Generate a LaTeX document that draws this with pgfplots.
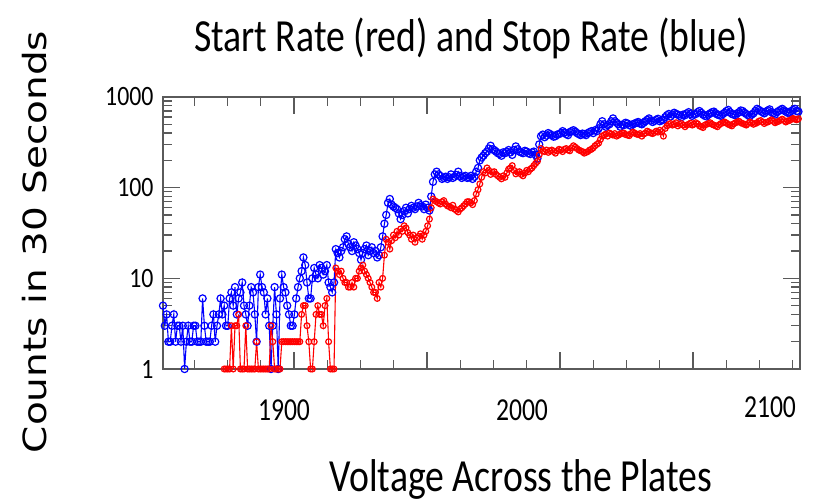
\documentclass[border=0pt]{standalone}
\usepackage{pgfplots}
\pgfplotsset{compat=1.18}
\usepackage{pgfplotstable}
\usepackage{fontspec}
\setmainfont{Carlito}
\newfontfamily\dejavu{DejaVu Sans}
\definecolor{axgray}{RGB}{90,90,90}

\pgfplotstableread{
V blue red
1846 5 nan
1846.75 3 nan
1847.5 4 nan
1848.25 2 nan
1849 2 nan
1849.75 3 nan
1850.5 4 nan
1851.25 2 nan
1852 3 nan
1852.75 3 nan
1853.5 2 nan
1854.25 3 nan
1855 1 nan
1855.75 2 nan
1856.5 3 nan
1857.25 2 nan
1858 2 nan
1858.75 3 nan
1859.5 3 nan
1860.25 2 nan
1861 2 nan
1861.75 2 nan
1862.5 6 nan
1863.25 3 nan
1864 2 nan
1864.75 2 nan
1865.5 2 nan
1866.25 3 nan
1867 4 nan
1867.75 2 nan
1868.5 3 nan
1869.25 4 nan
1870 6 nan
1870.75 4 nan
1871.5 5 1
1872.25 3 1
1873 3 1
1873.75 6 1
1874.5 7 3
1875.25 5 1
1876 8 3
1876.75 4 3
1877.5 6 4
1878.25 7 1
1879 9 1
1879.75 5 1
1880.5 4 3
1881.25 3 1
1882 5 1
1882.75 8 1
1883.5 7 1
1884.25 4 1
1885 2 2
1885.75 8 1
1886.5 11 1
1887.25 8 1
1888 7 1
1888.75 4 1
1889.5 6 1
1890.25 3 1
1891 1 3
1891.75 3 2
1892.5 8 1
1893.25 4 1
1894 1 1
1894.75 6 1
1895.5 11 2
1896.25 8 2
1897 7 2
1897.75 5 2
1898.5 4 2
1899.25 3 2
1900 3 2
1900.75 4 2
1901.5 6 2
1902.25 8 2
1903 10 2
1903.75 12 4
1904.5 17 5
1905.25 14 5
1906 9 3
1906.75 6 2
1907.5 6 1
1908.25 10 1
1909 13 2
1909.75 11 4
1910.5 10 5
1911.25 14 4
1912 13 4
1912.75 11 3
1913.5 12 5
1914.25 14 6
1915 9 2
1915.75 8 1
1916.5 7 1
1917.25 9 1
1918 21 13
1918.75 19 12
1919.5 17 11
1920.25 20 12
1921 22 10
1921.75 27 9
1922.5 29 9
1923.25 24 8
1924 22 8
1924.75 20 9
1925.5 25 8
1926.25 23 10
1927 21 10
1927.75 19 12
1928.5 16 13
1929.25 19 14
1930 21 12
1930.75 23 11
1931.5 18 10
1932.25 20 9
1933 22 8
1933.75 19 7
1934.5 20 7
1935.25 17 6
1936 18 9
1936.75 22 8
1937.5 29 10
1938.25 40 18
1939 50 27
1939.75 68 25
1940.5 75 21
1941.25 65 26
1942 62 30
1942.75 60 28
1943.5 58 33
1944.25 52 30
1945 45 35
1945.75 50 33
1946.5 55 38
1947.25 60 36
1948 52 32
1948.75 58 30
1949.5 63 27
1950.25 60 30
1951 58 25
1951.75 62 28
1952.5 68 29
1953.25 64 31
1954 62 27
1954.75 58 30
1955.5 65 33
1956.25 60 38
1957 56 45
1957.75 80 60
1958.5 116 75
1959.25 140 72
1960 150 70
1960.75 140 68
1961.5 135 66
1962.25 125 70
1963 128 72
1963.75 132 66
1964.5 125 63
1965.25 130 62
1966 140 60
1966.75 128 64
1967.5 132 58
1968.25 138 56
1969 150 54
1969.75 135 58
1970.5 128 60
1971.25 132 63
1972 135 66
1972.75 128 70
1973.5 130 70
1974.25 135 68
1975 125 65
1975.75 132 72
1976.5 150 85
1977.25 165 95
1978 200 110
1978.75 215 130
1979.5 225 150
1980.25 240 145
1981 250 165
1981.75 270 155
1982.5 290 140
1983.25 265 148
1984 260 150
1984.75 250 140
1985.5 240 135
1986.25 235 130
1987 225 125
1987.75 245 135
1988.5 240 130
1989.25 250 145
1990 260 160
1990.75 245 165
1991.5 230 175
1992.25 260 155
1993 285 142
1993.75 265 148
1994.5 250 150
1995.25 245 140
1996 240 135
1996.75 255 145
1997.5 250 155
1998.25 240 150
1999 235 160
1999.75 245 165
2000.5 250 175
2001.25 230 185
2002 210 195
2002.75 300 230
2003.5 370 270
2004.25 385 255
2005 360 250
2005.75 375 260
2006.5 400 245
2007.25 390 255
2008 380 260
2008.75 365 250
2009.5 370 240
2010.25 385 255
2011 390 265
2011.75 400 260
2012.5 420 250
2013.25 405 265
2014 390 270
2014.75 380 260
2015.5 410 255
2016.25 420 275
2017 430 290
2017.75 415 280
2018.5 400 270
2019.25 390 260
2020 380 255
2020.75 395 250
2021.5 390 240
2022.25 380 245
2023 400 250
2023.75 410 260
2024.5 420 265
2025.25 400 275
2026 430 290
2026.75 420 300
2027.5 450 310
2028.25 500 340
2029 540 370
2029.75 500 380
2030.5 470 390
2031.25 490 370
2032 500 400
2032.75 540 390
2033.5 580 380
2034.25 540 395
2035 520 370
2035.75 500 380
2036.5 470 390
2037.25 495 400
2038 490 400
2038.75 520 385
2039.5 510 380
2040.25 490 375
2041 480 395
2041.75 500 410
2042.5 510 400
2043.25 520 390
2044 530 385
2044.75 510 395
2045.5 500 370
2046.25 520 390
2047 540 400
2047.75 560 420
2048.5 580 410
2049.25 550 400
2050 530 395
2050.75 545 405
2051.5 560 420
2052.25 575 410
2053 540 430
2053.75 555 415
2054.5 560 370
2055.25 600 450
2056 630 480
2056.75 650 500
2057.5 610 510
2058.25 640 490
2059 670 500
2059.75 650 520
2060.5 640 480
2061.25 620 500
2062 600 510
2062.75 640 490
2063.5 630 470
2064.25 660 490
2065 680 500
2065.75 650 515
2066.5 620 490
2067.25 640 500
2068 650 520
2068.75 680 505
2069.5 700 480
2070.25 670 470
2071 640 460
2071.75 620 490
2072.5 610 500
2073.25 640 510
2074 660 520
2074.75 680 500
2075.5 690 490
2076.25 660 480
2077 640 470
2077.75 630 495
2078.5 620 510
2079.25 650 520
2080 670 530
2080.75 700 515
2081.5 720 500
2082.25 680 490
2083 650 480
2083.75 640 505
2084.5 630 520
2085.25 660 530
2086 680 540
2086.75 710 520
2087.5 700 510
2088.25 670 500
2089 650 490
2089.75 630 510
2090.5 610 530
2091.25 640 515
2092 660 500
2092.75 700 510
2093.5 740 520
2094.25 720 540
2095 700 550
2095.75 680 530
2096.5 660 510
2097.25 690 525
2098 710 530
2098.75 730 545
2099.5 680 560
2100.25 660 540
2101 640 520
2101.75 680 530
2102.5 700 540
2103.25 720 555
2104 740 570
2104.75 710 550
2105.5 690 530
2106.25 670 545
2107 670 550
2107.75 700 565
2108.5 720 580
2109.25 740 570
2110 700 560
2110.75 690 575
}\datatable

\begin{document}
\begin{tikzpicture}[x=1pt,y=1pt]
\path[use as bounding box] (0,0) rectangle (823,503);
\begin{axis}[
  at={(163pt,134pt)}, anchor=south west,
  width=637pt, height=272pt, scale only axis,
  xmin=1846, xmax=2111.4,
  ymode=log, ymin=1, ymax=1000,
  xtick={1900.58,1956,2011.42,2066.83},
  xticklabels={},
  minor xtick={1859.02,1872.88,1886.73,1914.44,1928.29,1942.15,1969.85,1983.71,1997.56,2025.27,2039.13,2052.98,2080.69,2094.54,2108.4},
  ytick={1,10,100,1000},
  yticklabels={\scalebox{0.85}[1]{1},\scalebox{0.85}[1]{10},\scalebox{0.85}[1]{100},\scalebox{0.85}[1]{1000}},
  yticklabel style={font=\fontsize{28}{28}\selectfont, xshift=-6pt},
  tick align=inside,
  major tick length=17pt,
  minor tick length=9pt,
  tick style={draw=axgray, line width=1.3pt},
  axis line style={draw=axgray, line width=1.6pt},
  unbounded coords=discard,
]
\addplot[blue, line width=1.1pt, mark=o, mark size=3.6pt, mark options={line width=1.2pt}] table[x=V, y=blue] {\datatable};
\addplot[red, line width=1.1pt, mark=o, mark size=2.9pt, mark options={line width=1.2pt}] table[x=V, y=red] {\datatable};
\end{axis}
\node[anchor=base, font=\fontsize{46}{46}\selectfont] at (471,451) {\scalebox{0.82}[1]{Start Rate (red) and Stop Rate (blue)}};
\node[anchor=base, font=\fontsize{46}{46}\selectfont] at (521,11) {\scalebox{0.82}[1]{Voltage Across the Plates}};
\node[rotate=90, font=\dejavu\fontsize{39}{39}\selectfont] at (35,261) {\scalebox{1}[0.82]{Counts in 30 Seconds}};
\node[font=\fontsize{32}{32}\selectfont] at (284,93) {\scalebox{0.8}[1]{1900}};
\node[font=\fontsize{32}{32}\selectfont] at (522,93) {\scalebox{0.8}[1]{2000}};
\node[font=\fontsize{32}{32}\selectfont] at (770,96) {\scalebox{0.8}[1]{2100}};
\end{tikzpicture}
\end{document}
